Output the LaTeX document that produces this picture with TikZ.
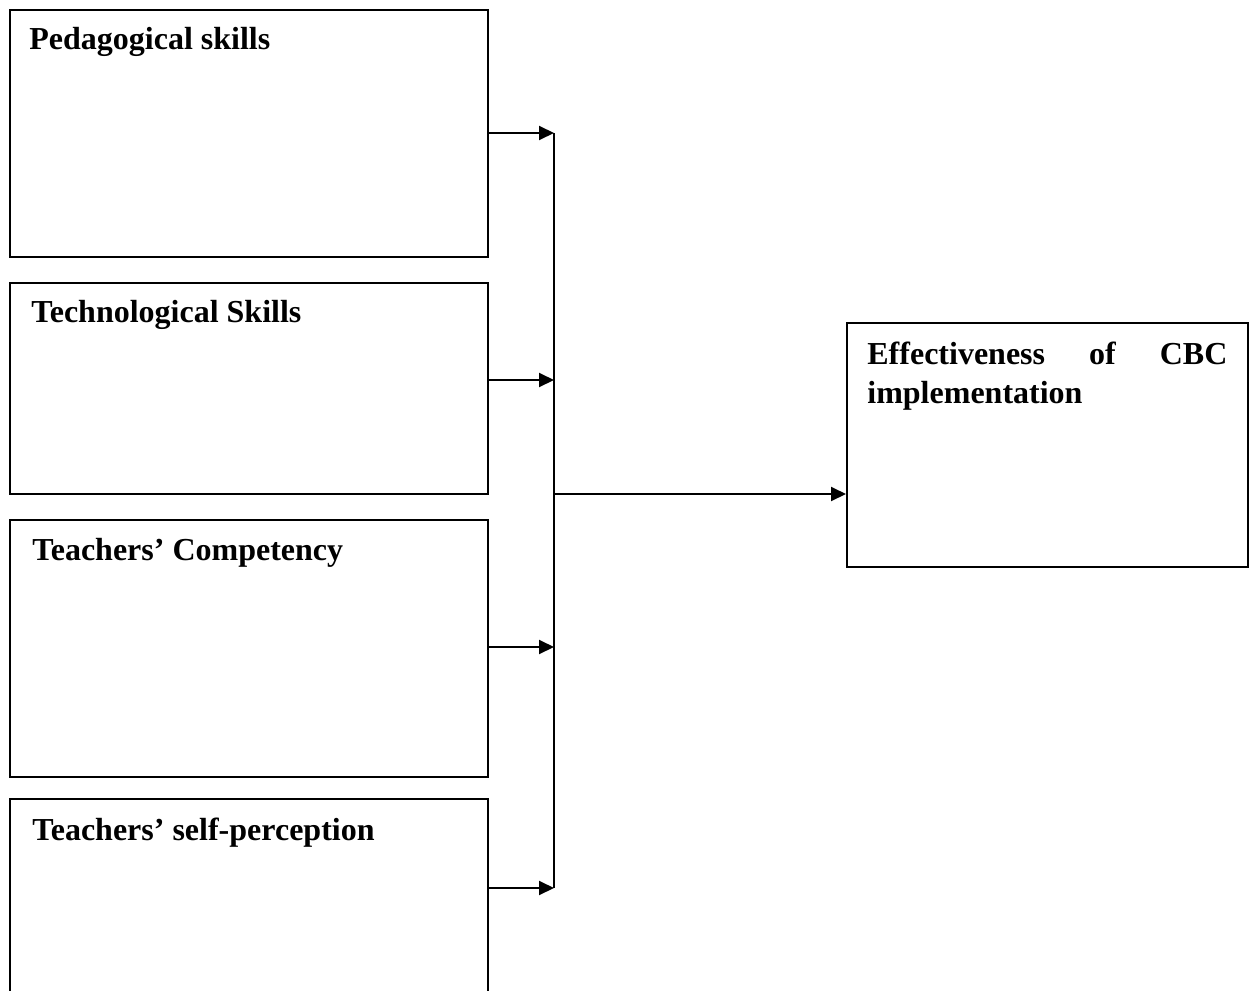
\documentclass[tikz,border=0pt]{standalone}
\usepackage{fontspec}
\setmainfont{Liberation Serif}
\usetikzlibrary{arrows.meta,positioning,calc}
\tikzset{
  varbox/.style={draw=black,line width=1pt,inner sep=0pt,
                 minimum width=239pt},
  varlabel/.style={anchor=base west,inner sep=0pt,
                   font=\fontsize{16}{19.5}\selectfont\bfseries},
  outlabel/.style={anchor=base west,inner sep=0pt,text width=180pt,
                   align=justify,font=\fontsize{16}{19.5}\selectfont\bfseries,
                   execute at begin node={\hyphenpenalty=10000\relax}},
  flowarr/.style={-{Triangle[length=7.5pt,width=7pt]},line width=1pt},
  spine/.style={line width=1pt}
}
\begin{document}
\begin{tikzpicture}[x=0.5pt,y=-0.5pt]
  \useasboundingbox (0,0) rectangle (1250,991);
  % independent variables
  \node[varbox,minimum height=123.5pt] (ped) at (249,133.5) {};
  \node[varbox,minimum height=105.5pt] (tech) at (249,388.5) {};
  \node[varbox,minimum height=128.5pt] (comp) at (249,648.5) {};
  \node[varbox,minimum height=100.5pt] (self) at (249,899.5) {};
  \node[varlabel] (pedlbl) at ([xshift=10pt,yshift=-20pt]ped.north west) {Pedagogical skills};
  \node[varlabel] (techlbl) at ([xshift=11pt,yshift=-20pt]tech.north west) {Technological Skills};
  \node[varlabel] (complbl) at ([xshift=11.5pt,yshift=-20.5pt]comp.north west) {Teachers’ Competency};
  \node[varlabel] (selflbl) at ([xshift=11.5pt,yshift=-21pt]self.north west) {Teachers’ self-perception};
  % dependent variable
  \node[varbox,minimum width=200.5pt,minimum height=122pt] (eff) at (1047.5,445) {};
  \node[outlabel] (efflbl) at ([xshift=10.5pt,yshift=-21pt]eff.north west)
    {Effectiveness of CBC implementation};
  % joints on the spine
  \coordinate (j1) at (554,133);
  \coordinate (j2) at (554,380);
  \coordinate (j3) at (554,647);
  \coordinate (j4) at (554,888);
  \coordinate (hub) at (554,494);
  \draw[spine] (j1) -- (j4);
  \draw[flowarr] (ped.east |- j1) -- (j1);
  \draw[flowarr] (tech.east |- j2) -- (j2);
  \draw[flowarr] (comp.east |- j3) -- (j3);
  \draw[flowarr] (self.east |- j4) -- (j4);
  \draw[flowarr] (hub) -- (eff.west |- hub);
\end{tikzpicture}
\end{document}
